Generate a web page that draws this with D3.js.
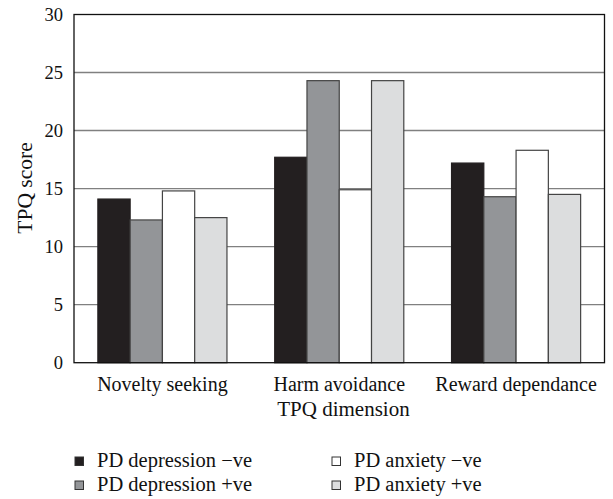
<!DOCTYPE html>
<html><head><meta charset="utf-8">
<script src="https://cdn.jsdelivr.net/npm/d3@7"></script>
<style>body{margin:0;background:#fff}svg{display:block}text{font-family:"Liberation Serif","DejaVu Serif",serif;fill:#111}</style>
</head><body><svg id="c" width="613" height="499"></svg>
<script>
const categories = ["Novelty seeking", "Harm avoidance", "Reward dependance"];
const seriesNames = ["PD depression \u2212ve", "PD depression +ve", "PD anxiety \u2212ve", "PD anxiety +ve"];
const depNeg = [14.1, 17.7, 17.2];
const depPos = [12.3, 24.3, 14.3];
const anxNeg = [14.8, 14.9, 18.3];
const anxPos = [12.5, 24.3, 14.5];
const yTicks = [0, 5, 10, 15, 20, 25, 30];
const colors = ["#231f20", "#939598", "#ffffff", "#dcddde"];

const series = [depNeg, depPos, anxNeg, anxPos];
const svg = d3.select("#c");
const L = 74, R = 604.5, T = 14.5, B = 362.7;

const x0 = d3.scaleBand().domain(categories).range([L, R]).paddingInner(0.27).paddingOuter(0.135);
const x1 = d3.scaleBand().domain(d3.range(4)).range([0, x0.bandwidth()]);
const y = d3.scaleLinear().domain([0, 30]).range([B, T]);

// gridlines
svg.append("g").selectAll("line").data(yTicks.filter(t => t > 0 && t < 30)).join("line")
  .attr("x1", L).attr("x2", R).attr("y1", d => y(d)).attr("y2", d => y(d))
  .attr("stroke", "#808080").attr("stroke-width", 1.4);

// bars
const g = svg.append("g");
categories.forEach((c, ci) => {
  series.forEach((s, si) => {
    g.append("rect")
      .attr("x", x0(c) + x1(si)).attr("width", x1.bandwidth())
      .attr("y", y(s[ci])).attr("height", y(0) - y(s[ci]))
      .attr("fill", colors[si]).attr("stroke", si === 0 ? "#231f20" : "#444").attr("stroke-width", 1.2);
  });
});

// frame
svg.append("rect").attr("x", L).attr("y", T).attr("width", R - L).attr("height", B - T)
  .attr("fill", "none").attr("stroke", "#111").attr("stroke-width", 1.3);

// y axis labels
const yAxis = d3.axisLeft(y).tickValues(yTicks).tickSize(0).tickPadding(11);
const ya = svg.append("g").attr("transform", `translate(${L},0)`).call(yAxis);
ya.select(".domain").remove();
ya.selectAll("text").style("font-size", "18.5px").style("font-family", '"Liberation Serif",serif').attr("fill", "#111");

// x axis labels
const xAxis = d3.axisBottom(x0).tickSize(0).tickPadding(14);
const xa = svg.append("g").attr("transform", `translate(0,${B})`).call(xAxis);
xa.select(".domain").remove();
xa.selectAll("text").style("font-size", "20px").style("font-family", '"Liberation Serif",serif').attr("fill", "#111");

svg.append("text").attr("x", 343.5).attr("y", 416).attr("text-anchor", "middle").style("font-size", "21px").text("TPQ dimension");
svg.append("text").attr("transform", "translate(32,188) rotate(-90)").attr("text-anchor", "middle").style("font-size", "21.5px").text("TPQ score");

// legend
const legPos = [[75, 457], [75, 481], [332, 457], [332, 481]];
seriesNames.forEach((n, i) => {
  const [lx, ly] = legPos[i];
  svg.append("rect").attr("x", lx).attr("y", ly).attr("width", 8.5).attr("height", 8.5)
    .attr("fill", colors[i]).attr("stroke", "#333").attr("stroke-width", 1);
  svg.append("text").attr("x", lx + 22).attr("y", ly + 10).style("font-size", "20.5px").text(n);
});
</script></body></html>
